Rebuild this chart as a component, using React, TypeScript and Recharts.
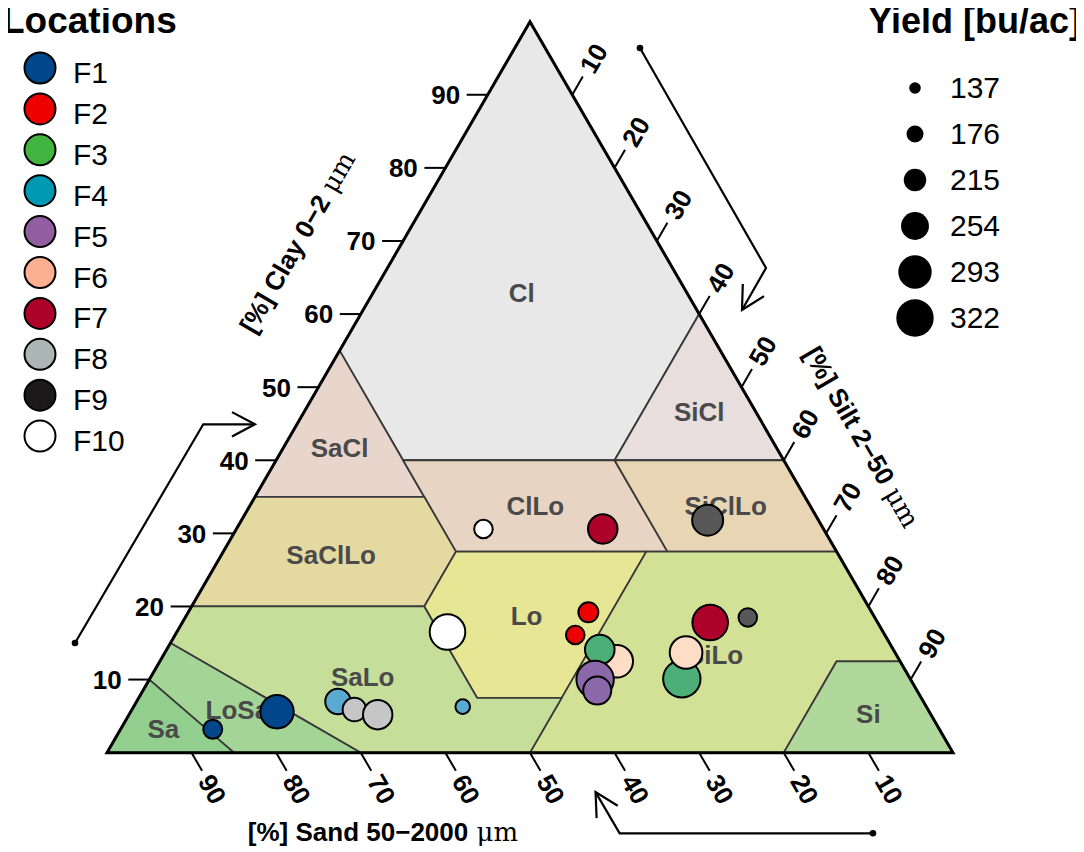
import React from 'react';
import { ScatterChart, Scatter, XAxis, YAxis, ZAxis } from 'recharts';

const FONT = '"Liberation Sans", Arial, Helvetica, sans-serif';

// ---------------- data ----------------
const clayTicks = [10, 20, 30, 40, 50, 60, 70, 80, 90];
const siltTicks = [10, 20, 30, 40, 50, 60, 70, 80, 90];
const sandTicks = [90, 80, 70, 60, 50, 40, 30, 20, 10];

// USDA texture classes, vertices as [clay %, silt %]
const clVerts = [[100, 0], [55, 0], [40, 15], [40, 40], [60, 40]];
const siclVerts = [[60, 40], [40, 40], [40, 60]];
const saclVerts = [[55, 0], [35, 0], [35, 20], [40, 15]];
const clloVerts = [[40, 15], [27.5, 27.5], [27.5, 52.5], [40, 40]];
const sicllo_Verts = [[40, 40], [27.5, 52.5], [27.5, 72.5], [40, 60]];
const sacllo_Verts = [[35, 0], [20, 0], [20, 27.5], [27.5, 27.5], [35, 20]];
const loVerts = [[27.5, 27.5], [20, 27.5], [7.5, 40], [7.5, 50], [27.5, 50]];
const siloVerts = [[27.5, 50], [27.5, 72.5], [12.5, 87.5], [12.5, 80], [0, 80], [0, 50], [7.5, 50]];
const siVerts = [[12.5, 80], [12.5, 87.5], [0, 100], [0, 80]];
const saloVerts = [[20, 0], [20, 27.5], [7.5, 40], [7.5, 50], [0, 50], [0, 30], [15, 0]];
const losaVerts = [[15, 0], [0, 30], [0, 15], [10, 0]];
const saVerts = [[10, 0], [0, 15], [0, 0]];

const textureClasses = [
  { name: 'Cl', verts: clVerts },
  { name: 'SiCl', verts: siclVerts },
  { name: 'SaCl', verts: saclVerts },
  { name: 'ClLo', verts: clloVerts },
  { name: 'SiClLo', verts: sicllo_Verts },
  { name: 'SaClLo', verts: sacllo_Verts },
  { name: 'Lo', verts: loVerts },
  { name: 'SiLo', verts: siloVerts },
  { name: 'Si', verts: siVerts },
  { name: 'SaLo', verts: saloVerts },
  { name: 'LoSa', verts: losaVerts },
  { name: 'Sa', verts: saVerts },
];

// samples: [clay %, silt %, yield bu/ac]
const samplesF1 = [[3.2, 10.9, 190], [5.6, 17.3, 293]];
const samplesF2 = [[19.2, 47.3, 197], [16.1, 47.3, 187]];
const samplesF3 = [[14.1, 51.2, 266], [10.1, 62.9, 322]];
const samplesF4 = [[7.0, 23.8, 236], [6.3, 38.9, 159]];
const samplesF5 = [[10.0, 52.7, 322], [8.5, 53.7, 255]];
const samplesF6 = [[12.5, 54.0, 288], [13.7, 61.6, 288]];
const samplesF7 = [[30.6, 43.3, 265], [17.8, 62.4, 309]];
const samplesF8 = [[5.9, 26.3, 223], [5.2, 29.4, 265]];
const samplesF9 = [[31.8, 55.1, 276], [18.5, 66.5, 187]];
const samplesF10 = [[30.6, 29.2, 187], [16.5, 32.0, 309]];

const locationNames = ['F1', 'F2', 'F3', 'F4', 'F5', 'F6', 'F7', 'F8', 'F9', 'F10'];
const yieldLegend = [137, 176, 215, 254, 293, 322];

// ---------------- styles ----------------
const classFill: Record<string, string> = {
  Cl: '#e8e8e8', SiCl: '#e8dedd', SaCl: '#e8d5cb', ClLo: '#e8d4c2', SiClLo: '#e7d5b3',
  SaClLo: '#e5d9a2', Lo: '#e6e694', SiLo: '#d3e197', Si: '#b1d89b', SaLo: '#c5df9a',
  LoSa: '#a3d597', Sa: '#92cf8f',
};
const legendColor: Record<string, string> = {
  F1: '#00468B', F2: '#ED0000', F3: '#42B540', F4: '#0099B4', F5: '#925E9F',
  F6: '#FDAF91', F7: '#AD002A', F8: '#ADB6B6', F9: '#1B1919', F10: '#FFFFFF',
};
const pointColor: Record<string, string> = {
  F1: '#00468b', F2: '#ee0000', F3: '#4baf77', F4: '#5aa9d0', F5: '#8a68a9',
  F6: '#fdddc6', F7: '#ad002a', F8: '#c6c6c6', F9: '#585858', F10: '#ffffff',
};

// ---------------- layout ----------------
const CHART_W = 1076;
const CHART_H = 844;
const X_MIN = -11.7;
const X_MAX = 115.487;
const Y_MIN = -13.588;
const Y_MAX = 101.87;
const SIZE_BASE = 54;
const SIZE_REF = 322;
const R_MAX = 18.7;

// ternary (clay, silt) -> plot coordinates
const tern = (clay: number, silt: number) => ({ x: silt + clay / 2, y: clay });

function centroid(verts: number[][]) {
  const p = verts.map(([c, s]) => tern(c, s));
  let A = 0, cx = 0, cy = 0;
  for (let i = 0; i < p.length; i++) {
    const a = p[i], b = p[(i + 1) % p.length];
    const cr = a.x * b.y - b.x * a.y;
    A += cr; cx += (a.x + b.x) * cr; cy += (a.y + b.y) * cr;
  }
  A /= 2;
  return { x: cx / (6 * A), y: cy / (6 * A) };
}

const polyRows = (verts: number[][]) => verts.map(([c, s]) => tern(c, s));
const triangleRows = [tern(0, 0), tern(0, 100), tern(100, 0)];
const clayTickRows = clayTicks.map((v) => ({ ...tern(v, 0), label: v }));
const siltTickRows = siltTicks.map((v) => ({ ...tern(100 - v, v), label: v }));
const sandTickRows = sandTicks.map((v) => ({ ...tern(0, 100 - v), label: v }));
const classLabelRows = textureClasses.map((c) => ({ ...centroid(c.verts), label: c.name }));

const titleRows = [
  { x: 22.46, y: 69.86, label: '[%] Clay 0\u22122', rot: -60 },
  { x: 89.24, y: 43.19, label: '[%] Silt 2\u221250', rot: 60 },
  { x: 32.62, y: -10.85, label: '[%] Sand 50\u22122000', rot: 0 },
];
const arrowLeft = [{ x: -3.78, y: 15.0 }, { x: 11.38, y: 44.92 }, { x: 17.49, y: 44.92 }];
const arrowRight = [{ x: 63.0, y: 96.4 }, { x: 77.9, y: 66.3 }, { x: 75.06, y: 60.56 }];
const arrowBottom = [{ x: 90.54, y: -11.03 }, { x: 60.6, y: -11.03 }, { x: 57.75, y: -5.4 }];

const sampleRows = (rows: number[][]) =>
  rows.map(([clay, silt, yld]) => ({ ...tern(clay, silt), yield: yld, z: (yld - SIZE_BASE) ** 2 }));

const drawOrder = [
  { loc: 'F1', rows: samplesF1 },
  { loc: 'F2', rows: samplesF2 },
  { loc: 'F4', rows: samplesF4 },
  { loc: 'F8', rows: samplesF8 },
  { loc: 'F10', rows: samplesF10 },
  { loc: 'F6', rows: [samplesF6[0]] },
  { loc: 'F3', rows: samplesF3 },
  { loc: 'F5', rows: samplesF5 },
  { loc: 'F6', rows: [samplesF6[1]] },
  { loc: 'F7', rows: samplesF7 },
  { loc: 'F9', rows: samplesF9 },
];

// ---------------- shapes ----------------
const Nothing = () => <g />;

const pathOf = (pts: { x: number; y: number }[]) =>
  pts.map((q, i) => `${i ? 'L' : 'M'}${q.x},${q.y}`).join(' ');

const polygonLine = (fill: string) => (p: any) => (
  <path d={pathOf(p.points) + ' Z'} fill={fill} stroke="#3a3a3a" strokeWidth={1.8} strokeLinejoin="round" />
);

const triangleLine = (p: any) => (
  <path d={pathOf(p.points) + ' Z'} fill="none" stroke="#000" strokeWidth={3} strokeLinejoin="miter" />
);

const arrowLine = (p: any) => {
  const pts = p.points;
  const a = pts[pts.length - 2];
  const b = pts[pts.length - 1];
  const ang = Math.atan2(b.y - a.y, b.x - a.x);
  const L = 26;
  const sp = (28 * Math.PI) / 180;
  const h1 = { x: b.x - L * Math.cos(ang - sp), y: b.y - L * Math.sin(ang - sp) };
  const h2 = { x: b.x - L * Math.cos(ang + sp), y: b.y - L * Math.sin(ang + sp) };
  return (
    <g>
      <path d={pathOf(pts)} fill="none" stroke="#000" strokeWidth={2.2} strokeLinejoin="miter" />
      <path d={pathOf([h1, b, h2])} fill="none" stroke="#000" strokeWidth={2.2} />
      <circle cx={pts[0].x} cy={pts[0].y} r={3.3} fill="#000" />
    </g>
  );
};

const tickShape = (dx: number, dy: number, rot: number) => (props: any) => {
  const { cx, cy, payload } = props;
  const len = 21;
  const off = 42;
  const tx = cx + dx * off;
  const ty = cy + dy * off;
  return (
    <g>
      <line x1={cx} y1={cy} x2={cx + dx * len} y2={cy + dy * len} stroke="#000" strokeWidth={2} />
      <text
        x={tx}
        y={ty}
        dy="0.36em"
        transform={`rotate(${rot} ${tx} ${ty})`}
        textAnchor="middle"
        fontFamily={FONT}
        fontSize={26}
        fontWeight="bold"
        fill="#000"
      >
        {payload.label}
      </text>
    </g>
  );
};

const classLabelShape = (props: any) => {
  const { cx, cy, payload } = props;
  return (
    <text x={cx} y={cy} dy="0.36em" textAnchor="middle" fontFamily={FONT} fontSize={26} fontWeight="bold" fill="#4a4a4a">
      {payload.label}
    </text>
  );
};

const titleShape = (props: any) => {
  const { cx, cy, payload } = props;
  return (
    <text
      x={cx}
      y={cy}
      dy="0.36em"
      transform={`rotate(${payload.rot} ${cx} ${cy})`}
      textAnchor="middle"
      fontFamily={FONT}
      fontSize={26}
      fontWeight="bold"
      fill="#000"
    >
      {payload.label}
      <tspan fontWeight="normal" fontFamily='"DejaVu Serif", serif'>{' \u03bcm'}</tspan>
    </text>
  );
};

// ---------------- legends (overlay) ----------------
const LEG_X = 40;
const LEG_Y0 = 68;
const LEG_DY = 40.9;
const SZ_X = 915;
const SZ_Y0 = 88;
const SZ_DY = 46;
const sizeRadius = (v: number) => (R_MAX * (v - SIZE_BASE)) / (SIZE_REF - SIZE_BASE);

function Legends() {
  return (
    <svg
      width={1084}
      height={852}
      style={{ position: 'absolute', left: -8, top: -8, pointerEvents: 'none', overflow: 'visible' }}
    >
      <text x={2} y={33} fontFamily={FONT} fontSize={37} fontWeight="bold" fill="#000">Locations</text>
      {locationNames.map((n, i) => {
        const cy = LEG_Y0 + i * LEG_DY;
        return (
          <g key={n}>
            <circle cx={LEG_X} cy={cy} r={15.5} fill={legendColor[n]} stroke="#000" strokeWidth={2} />
            <text x={73} y={cy + 15} fontFamily={FONT} fontSize={30} fill="#000">{n}</text>
          </g>
        );
      })}
      <text x={1081} y={33} textAnchor="end" fontFamily={FONT} fontSize={36} fontWeight="bold" fill="#000">
        Yield [bu/ac]
      </text>
      {yieldLegend.map((v, i) => {
        const cy = SZ_Y0 + i * SZ_DY;
        return (
          <g key={v}>
            <circle cx={SZ_X} cy={cy} r={sizeRadius(v)} fill="#000" />
            <text x={950} y={cy + 10} fontFamily={FONT} fontSize={30} fill="#000">{v}</text>
          </g>
        );
      })}
    </svg>
  );
}

export default function App() {
  return (
    <div style={{ position: 'relative', width: CHART_W, height: CHART_H, background: '#fff' }}>
      <ScatterChart width={CHART_W} height={CHART_H} margin={{ top: 0, right: 0, bottom: 0, left: 0 }}>
        <XAxis type="number" dataKey="x" domain={[X_MIN, X_MAX]} allowDataOverflow hide />
        <YAxis type="number" dataKey="y" domain={[Y_MIN, Y_MAX]} allowDataOverflow hide />
        <ZAxis
          zAxisId="yield"
          type="number"
          dataKey="z"
          domain={[0, (SIZE_REF - SIZE_BASE) ** 2]}
          range={[0, Math.PI * R_MAX * R_MAX]}
        />
        {textureClasses.map((c) => (
          <Scatter
            key={'poly-' + c.name}
            data={polyRows(c.verts)}
            shape={Nothing}
            line={polygonLine(classFill[c.name])}
            isAnimationActive={false}
          />
        ))}
        <Scatter data={triangleRows} shape={Nothing} line={triangleLine} isAnimationActive={false} />
        <Scatter data={clayTickRows} shape={tickShape(-1, 0, 0)} isAnimationActive={false} />
        <Scatter data={siltTickRows} shape={tickShape(0.5, -0.866, -60)} isAnimationActive={false} />
        <Scatter data={sandTickRows} shape={tickShape(0.5, 0.866, 60)} isAnimationActive={false} />
        <Scatter data={classLabelRows} shape={classLabelShape} isAnimationActive={false} />
        <Scatter data={titleRows} shape={titleShape} isAnimationActive={false} />
        <Scatter data={arrowLeft} shape={Nothing} line={arrowLine} isAnimationActive={false} />
        <Scatter data={arrowRight} shape={Nothing} line={arrowLine} isAnimationActive={false} />
        <Scatter data={arrowBottom} shape={Nothing} line={arrowLine} isAnimationActive={false} />
        {drawOrder.map((g, i) => (
          <Scatter
            key={'pts-' + i}
            name={g.loc}
            data={sampleRows(g.rows)}
            zAxisId="yield"
            shape="circle"
            fill={pointColor[g.loc]}
            stroke="#000"
            strokeWidth={2}
            isAnimationActive={false}
          />
        ))}
      </ScatterChart>
      <Legends />
    </div>
  );
}
